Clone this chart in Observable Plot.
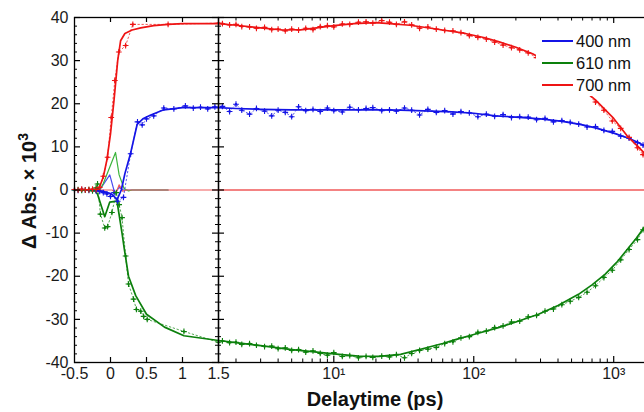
<!DOCTYPE html>
<html><head><meta charset="utf-8">
<script src="https://cdn.jsdelivr.net/npm/d3@7"></script>
<script src="https://cdn.jsdelivr.net/npm/@observablehq/plot@0.6"></script>
<style>
body{margin:0;background:#fff;}
#fig{position:relative;width:644px;height:412px;overflow:hidden;font-family:"Liberation Sans",Arial,sans-serif;background:#fff;}
#fig svg{position:absolute;top:0;}
.xtitle{position:absolute;left:275px;width:200px;top:389px;text-align:center;font-weight:bold;font-size:20px;line-height:20px;color:#111;}
.ytitle{position:absolute;left:-71px;top:179px;width:200px;height:24px;line-height:24px;text-align:center;font-weight:bold;font-size:20px;color:#111;transform:rotate(-90deg);white-space:nowrap;}
.ytitle sup{font-size:0.7em;line-height:0;}
.legend{position:absolute;left:536px;top:29px;width:108px;height:67px;background:#fff;}
.legend .row{position:absolute;left:6px;height:22px;display:flex;align-items:center;font-size:16.5px;color:#111;}
.legend .sw{width:31px;height:2px;margin-right:3px;}
</style></head>
<body><div id="fig"></div>
<script>
// ---- data ----
const labels = ["400 nm", "610 nm", "700 nm"];
const colors = ["#1414e6", "#0c800c", "#ee1414"];
const artColors = ["#4a4af0", "#3cb43c", "#f05a5a"];

// left panel (linear, -0.5 .. 1.5 ps): fits
const fit400L = [[-0.5,0],[-0.2,0],[-0.1,-0.3],[0,-0.8],[0.05,-1.5],[0.09,-2.3],[0.15,0],[0.2,3.8],[0.28,8.6],[0.37,15.2],[0.45,16.5],[0.56,17.4],[0.74,18.6],[1.0,19.1],[1.5,19.1]];
const fit610L = [[-0.5,0],[-0.22,0],[-0.18,-1],[-0.08,-6.2],[-0.01,-2.8],[0.09,-2.6],[0.16,-10],[0.19,-13.5],[0.21,-15.6],[0.25,-20],[0.35,-24.5],[0.5,-28.8],[0.75,-31.8],[1.02,-33.8],[1.5,-34.9]];
const fit700L = [[-0.5,0],[-0.2,0],[-0.15,0.8],[-0.1,3],[-0.05,7],[0,13],[0.05,21],[0.1,30],[0.14,34.6],[0.2,36.3],[0.3,37.1],[0.42,37.6],[0.6,38.1],[0.8,38.4],[1.0,38.6],[1.5,38.6]];
// left panel: coherent artifact components
const art400L = [[-0.5,0],[-0.15,0],[-0.01,3.5],[0.06,-0.8],[0.12,0.6],[0.18,0],[0.8,0]];
const art610L = [[-0.5,0],[-0.15,0],[-0.1,1.5],[0.07,8.7],[0.12,3.5],[0.19,0.3],[0.25,-0.2],[0.3,0],[0.8,0]];
const art700L = [[-0.5,0],[0.02,0],[0.08,-0.6],[0.12,1.2],[0.17,-0.3],[0.22,0],[1.5,0]];
// left panel: measured points
const dots400L = [[-0.5,0],[-0.45,-0.1],[-0.4,0.1],[-0.35,0],[-0.3,-0.1],[-0.25,0],[-0.2,-0.2],[-0.15,-0.3],[-0.1,-0.6],[-0.05,-0.9],[0.0,-1.5],[0.05,-0.6],[0.1,-2.6],[0.18,-1.7],[0.28,8.4],[0.375,15.8],[0.44,15.1],[0.5,16.5],[0.6,17.2],[0.74,19.0],[0.88,18.8],[1.04,19.5],[1.15,19.0],[1.25,19.2],[1.35,18.8],[1.45,19.3]];
const dots610L = [[-0.5,0],[-0.45,0.1],[-0.4,-0.1],[-0.35,0],[-0.3,0.1],[-0.25,-0.2],[-0.2,0.5],[-0.18,1.4],[-0.14,-5.6],[-0.08,-8.8],[-0.04,-8.5],[0.02,-5.2],[0.08,-0.6],[0.12,-3.4],[0.16,-6.4],[0.21,-15.3],[0.25,-21.8],[0.32,-25.3],[0.36,-27.7],[0.42,-28.1],[0.46,-29.3],[0.51,-30.0],[1.02,-32.8],[1.5,-35.3]];
const dots700L = [[-0.5,0.1],[-0.45,0],[-0.4,0.2],[-0.35,0],[-0.3,0.1],[-0.25,0.2],[-0.2,0.1],[-0.15,0.6],[-0.1,3.2],[-0.04,7.6],[0.01,16.8],[0.06,25.4],[0.115,32.0],[0.21,33.5],[0.31,38.4],[0.8,38.4],[1.5,38.7]];

// right panel (log, 1.5 .. ~1660 ps): fits
const fit400R = [[1.5,19.1],[2,18.9],[3,18.7],[5,18.6],[10,18.6],[20,18.6],[30,18.5],[50,18.3],[70,18.1],[100,17.8],[143,17.2],[200,16.9],[300,16.5],[430,15.9],[600,15.1],[740,14.4],[1000,13.2],[1250,12.1],[1500,11.0],[1660,10.2]];
const fit610R = [[1.5,-34.9],[2,-35.4],[3,-36.1],[5,-37.0],[7,-37.5],[10,-38.0],[15,-38.5],[21,-38.6],[30,-38.1],[43,-36.8],[60,-35.6],[74,-34.7],[100,-33.5],[150,-31.9],[200,-30.6],[290,-28.8],[400,-26.8],[560,-24.2],[700,-22.0],[870,-19.5],[1050,-16.8],[1270,-13.5],[1450,-11.2],[1660,-8.6]];
const fit700R = [[1.5,38.6],[2,38.2],[3,37.6],[4.3,37.1],[6,37.2],[8,37.7],[10,38.1],[14,38.6],[20,38.8],[25,38.6],[35,38.2],[43,37.8],[60,37.1],[87,36.3],[120,35.3],[150,34.4],[200,33.1],[263,31.6],[350,29.4],[500,25.5],[740,20.9],[1000,16.6],[1250,12.5],[1500,10.0],[1660,8.5]];
const art700R = [[1.5,0],[1660,0]];
// right panel: measured points
const delaysR = [1.6,1.8,2.0,2.2,2.5,2.8,3.2,3.6,4.0,4.5,5.0,5.6,6.3,7.1,8.0,9.0,10,11.5,13,15,17,19,22,25,28,32,36,41,47,54,62,71,81,93,107,123,141,162,186,213,245,281,323,371,426,489,562,645,741,851,977,1122,1288,1479,1620];
const dots400R = [19.4,18.2,19.9,18.5,17.6,18.9,18.3,17.2,18.5,18.0,17.0,19.3,18.4,18.7,18.2,19.0,18.4,18.1,19.2,18.6,18.9,19.1,18.4,18.6,18.3,19.0,18.5,17.4,18.7,18.0,18.4,17.6,18.2,17.9,17.0,17.6,17.1,17.5,16.8,17.0,16.9,16.3,16.6,15.8,16.1,15.7,15.3,14.6,14.7,13.8,13.6,12.5,12.0,11.0,10.4];
const dots610R = [-35.0,-35.4,-35.3,-35.8,-35.6,-36.0,-36.3,-36.2,-36.8,-36.6,-37.2,-37.0,-37.6,-37.3,-37.9,-38.3,-37.7,-38.6,-38.4,-38.9,-38.6,-38.8,-38.5,-38.7,-38.2,-38.9,-37.9,-37.2,-36.9,-36.5,-35.6,-35.2,-34.3,-34.0,-33.0,-32.7,-31.9,-31.5,-30.6,-30.4,-29.4,-29.1,-28.1,-27.6,-26.6,-25.8,-24.9,-23.7,-22.2,-20.3,-18.6,-16.2,-13.8,-11.5,-9.2];
const dots700R = [38.6,38.3,38.4,37.9,37.8,37.5,37.7,37.2,37.3,36.9,37.3,37.1,37.5,37.2,37.9,38.1,37.8,38.5,38.4,38.9,39.0,38.7,39.3,38.9,38.4,39.0,38.3,37.5,37.8,37.3,37.0,36.9,36.5,35.8,35.4,35.0,34.3,33.6,33.0,32.5,31.8,30.7,29.8,28.6,27.2,25.9,24.3,22.5,20.4,18.5,16.0,14.3,12.2,9.8,8.2];

// axis ticks
const yMajor = [-40,-30,-20,-10,0,10,20,30,40];
const yMinor = d3.range(-38, 40, 2).filter(v => v % 10 !== 0);
const xLeftLabels = [-0.5, 0, 0.5, 1];
const xLeftTicks = [0, 0.5, 1];
const xRightLabels = [1.5, 10, 100, 1000];
const xRightMajor = [10, 100, 1000];
const xRightMinor = [2,3,4,5,6,7,8,9,20,30,40,50,60,70,80,90,200,300,400,500,600,700,800,900,2000];

// ---- build ----
const rows = (pairs) => pairs.map(([t, v]) => ({t, v}));
const rowsR = (ys) => ys.map((v, i) => ({t: delaysR[i], v}));
const H = 412, MT = 17, MB = 50, PH = H - MT - MB;
const font = {background: "transparent", overflow: "visible", fontFamily: "'Liberation Sans', Arial, sans-serif", fontSize: "16px", color: "#1a1a1a"};
const sup = {1: "\u00b9", 2: "\u00b2", 3: "\u00b3"};

function seriesMarks(fits, arts, dots) {
  const m = [];
  arts.forEach((a, i) => a && m.push(Plot.line(a, {x: "t", y: "v", stroke: artColors[i], strokeWidth: 1.2})));
  dots.forEach((d, i) => m.push(Plot.line(d, {x: "t", y: "v", stroke: colors[i], strokeWidth: 1, strokeDasharray: "1.5,2.5", strokeOpacity: 0.7})));
  fits.forEach((f, i) => m.push(Plot.line(f, {x: "t", y: "v", stroke: colors[i], strokeWidth: 1.7})));
  dots.forEach((d, i) => m.push(Plot.dot(d, {x: "t", y: "v", r: 1.2, fill: colors[i], stroke: "none"})));
  dots.forEach((d, i) => m.push(Plot.dot(d, {x: "t", y: "v", symbol: "plus", r: 2, stroke: colors[i], strokeWidth: 1.1, fill: "none"})));
  return m;
}

const LW = 230, LML = 74, LMR = 12, LPW = LW - LML - LMR;
const left = Plot.plot({
  width: LW, height: H, marginLeft: LML, marginRight: LMR, marginTop: MT, marginBottom: MB,
  style: font,
  x: {type: "linear", domain: [-0.5, 1.5], label: null},
  y: {domain: [-40, 40], label: null},
  marks: [
    ...seriesMarks([rows(fit400L), rows(fit610L), rows(fit700L)],
                   [rows(art400L), rows(art610L), rows(art700L)],
                   [rows(dots400L), rows(dots610L), rows(dots700L)]),
    Plot.frame({stroke: "#000", strokeWidth: 1.3}),
    Plot.ruleY(yMajor, {y: d => d, insetRight: LPW - 6, stroke: "#000", strokeWidth: 1.2}),
    Plot.ruleY(yMinor, {y: d => d, insetRight: LPW - 3, stroke: "#000"}),
    Plot.ruleY(yMajor, {y: d => d, insetLeft: LPW - 6, stroke: "#000", strokeWidth: 1.2}),
    Plot.ruleY(yMinor, {y: d => d, insetLeft: LPW - 3, stroke: "#000"}),
    Plot.ruleX(xLeftTicks, {x: d => d, insetTop: PH - 5, stroke: "#000", strokeWidth: 1.2}),
    Plot.ruleX(xLeftTicks, {x: d => d, insetBottom: PH - 5, stroke: "#000", strokeWidth: 1.2}),
    Plot.axisY({ticks: yMajor, tickSize: 0, tickPadding: 6, tickFormat: d => String(d), label: null}),
    Plot.axisX({ticks: xLeftLabels, tickSize: 0, tickPadding: 5, tickFormat: d => String(d), label: null})
  ]
});

// right panel: plot area starts at page x = 218; extends 20 px past the page edge
const RX = 208, RML = 10, EXTRA = 20, RW = 644 - RX + EXTRA, RPW = RW - RML;
const xMaxR = 1660 * Math.pow(10, EXTRA / 140);
const right = Plot.plot({
  width: RW, height: H, marginLeft: RML, marginRight: 0, marginTop: MT, marginBottom: MB,
  style: font,
  x: {type: "log", domain: [1.5, xMaxR], label: null},
  y: {domain: [-40, 40], label: null, axis: null},
  marks: [
    Plot.line(rows(art700R), {x: "t", y: "v", stroke: artColors[2], strokeWidth: 1.5}),
    ...seriesMarks([rows(fit400R), rows(fit610R), rows(fit700R)],
                   [null, null, null],
                   [rowsR(dots400R), rowsR(dots610R), rowsR(dots700R)]),
    Plot.frame({stroke: "#000", strokeWidth: 1.3}),
    Plot.ruleY(yMajor, {y: d => d, insetRight: RPW - 6, stroke: "#000", strokeWidth: 1.2}),
    Plot.ruleY(yMinor, {y: d => d, insetRight: RPW - 3, stroke: "#000"}),
    Plot.ruleX(xRightMajor, {x: d => d, insetTop: PH - 6, stroke: "#000", strokeWidth: 1.2}),
    Plot.ruleX(xRightMinor, {x: d => d, insetTop: PH - 3.5, stroke: "#000"}),
    Plot.ruleX(xRightMajor, {x: d => d, insetBottom: PH - 6, stroke: "#000", strokeWidth: 1.2}),
    Plot.ruleX(xRightMinor, {x: d => d, insetBottom: PH - 3.5, stroke: "#000"}),
    Plot.axisX({ticks: xRightLabels, tickSize: 0, tickPadding: 5, label: null,
      tickFormat: d => d === 1.5 ? "1.5" : "10" + sup[Math.round(Math.log10(d))]})
  ]
});

const fig = document.getElementById("fig");
left.style.left = "0px";
right.style.left = RX + "px";
fig.appendChild(left);
fig.appendChild(right);

const xt = document.createElement("div");
xt.className = "xtitle"; xt.textContent = "Delaytime (ps)";
fig.appendChild(xt);
const yt = document.createElement("div");
yt.className = "ytitle"; yt.innerHTML = "\u0394 Abs. \u00d7 10<sup>3</sup>";
fig.appendChild(yt);

const lg = document.createElement("div");
lg.className = "legend";
labels.forEach((name, i) => {
  const r = document.createElement("div");
  r.className = "row"; r.style.top = (i * 22 + 1) + "px";
  const sw = document.createElement("span");
  sw.className = "sw"; sw.style.background = colors[i];
  const tx = document.createElement("span"); tx.textContent = name;
  r.appendChild(sw); r.appendChild(tx);
  lg.appendChild(r);
});
fig.appendChild(lg);
</script>
</body></html>
